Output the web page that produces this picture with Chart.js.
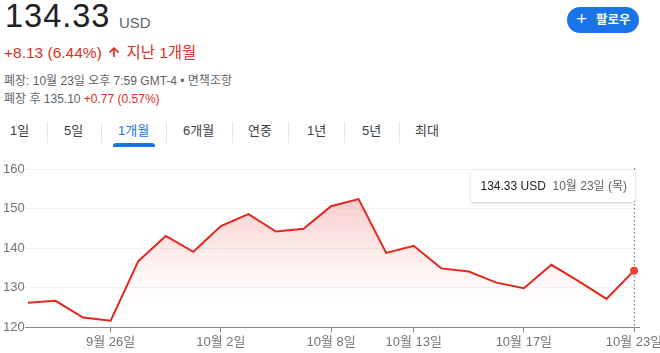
<!DOCTYPE html>
<html><head><meta charset="utf-8">
<script src="https://cdn.jsdelivr.net/npm/chart.js@4.4.1/dist/chart.umd.min.js"></script>
<style>
html,body{margin:0;padding:0;}
body{width:660px;height:353px;background:#fff;font-family:"Liberation Sans",Arial,"Noto Sans CJK KR",sans-serif;overflow:hidden;position:relative;}
.abs{position:absolute;white-space:nowrap;}
.tab{position:absolute;top:124px;font-size:13px;line-height:13px;color:#3c4043;white-space:nowrap;}
.sep{position:absolute;top:122px;width:1px;height:21px;background:#e3e5e8;}
#wrap{position:absolute;left:0;top:150px;width:660px;height:203px;}
#tip{position:absolute;top:170px;height:32px;background:#fff;box-shadow:0 1px 3px rgba(60,64,67,0.28);border-radius:3px;font-size:12px;line-height:32px;white-space:nowrap;padding:0 8px 0 9px;box-sizing:border-box;visibility:hidden;}
</style></head><body>
<div class="abs" style="left:5px;top:-0.5px;font-size:32.5px;line-height:32.5px;color:#202124;letter-spacing:1px;">134.33</div>
<div class="abs" style="left:119px;top:14.6px;font-size:15px;line-height:15px;color:#5f6368;">USD</div>
<div class="abs" style="left:4px;top:45px;font-size:15.5px;line-height:15.5px;color:#d93025;">+8.13 (6.44%) <svg width="14" height="14" viewBox="0 0 24 24" style="vertical-align:-1px;margin:0 1px"><path fill="#d93025" stroke="#d93025" stroke-width="1.2" d="M4 12l1.41 1.41L11 7.83V20h2V7.83l5.58 5.59L20 12l-8-8-8 8z"/></svg> 지난 1개월</div>
<div class="abs" style="left:4px;top:74.8px;font-size:12px;line-height:12px;color:#5f6368;">폐장: 10월 23일 오후 7:59 GMT-4 • 면책조항</div>
<div class="abs" style="left:4px;top:92.8px;font-size:12px;line-height:12px;color:#5f6368;">폐장 후 135.10 <span style="color:#d93025">+0.77 (0.57%)</span></div>

<div class="abs" style="left:567px;top:7px;width:72px;height:26px;border-radius:13px;background:#1a73e8;"></div>
<div class="abs" style="left:576px;top:9px;font-size:19px;line-height:20px;color:#fff;">+</div>
<div class="abs" style="left:596px;top:13.5px;font-size:12.5px;line-height:13px;color:#fff;font-weight:bold;">팔로우</div>

<div class="tab" style="left:10px">1일</div>
<div class="tab" style="left:64px">5일</div>
<div class="tab" style="left:118px;color:#1a73e8">1개월</div>
<div class="tab" style="left:183px">6개월</div>
<div class="tab" style="left:248px">연중</div>
<div class="tab" style="left:307px">1년</div>
<div class="tab" style="left:362px">5년</div>
<div class="tab" style="left:415px">최대</div>
<div class="sep" style="left:47px"></div>
<div class="sep" style="left:101px"></div>
<div class="sep" style="left:166px"></div>
<div class="sep" style="left:232px"></div>
<div class="sep" style="left:288px"></div>
<div class="sep" style="left:344px"></div>
<div class="sep" style="left:399px"></div>
<div class="abs" style="left:113px;top:143px;width:42px;height:4px;background:#1a73e8;border-radius:3px 3px 0 0;"></div>

<div id="wrap"><canvas id="c" width="660" height="203"></canvas></div>
<div id="tip"><span style="color:#202124">134.33 USD</span>&nbsp; <span style="color:#5f6368">10월 23일 (목)</span></div>

<script>
const dates = ['9월 23일','9월 24일','9월 25일','9월 26일','9월 29일','9월 30일','10월 1일','10월 2일','10월 3일','10월 6일','10월 7일','10월 8일','10월 9일','10월 10일','10월 13일','10월 14일','10월 15일','10월 16일','10월 17일','10월 20일','10월 21일','10월 22일','10월 23일'];
const prices = [126.2,126.7,122.5,121.7,136.7,143.1,139.1,145.6,148.6,144.2,144.9,150.6,152.4,138.8,140.6,134.9,134.1,131.3,129.9,135.8,131.6,127.2,134.33];
const tickDates = ['9월 26일','10월 2일','10월 8일','10월 13일','10월 17일','10월 23일'];
const yTicks = [120,130,140,150,160];

const labelFont = {family:'"Liberation Sans", Arial, "Noto Sans CJK KR", sans-serif', size:13};
const labelColor = '#70757a';
const lastIdx = prices.length - 1;

const cursorPlugin = {
  id:'cursor',
  beforeDatasetsDraw(chart){
    const meta = chart.getDatasetMeta(0);
    const pt = meta.data[lastIdx];
    const {ctx, chartArea} = chart;
    const x = Math.round(pt.x) + 0.5;
    ctx.save();
    ctx.strokeStyle = '#80868b';
    ctx.lineWidth = 1.2;
    ctx.setLineDash([1.5,2.5]);
    ctx.beginPath();
    ctx.moveTo(x, chartArea.top - 1);
    ctx.lineTo(x, chartArea.bottom);
    ctx.stroke();
    ctx.restore();
  },
  afterRender(chart){
    const pt = chart.getDatasetMeta(0).data[lastIdx];
    const tip = document.getElementById('tip');
    tip.style.right = (660 - Math.round(pt.x) - 1) + 'px';
    tip.style.visibility = 'visible';
  }
};

new Chart(document.getElementById('c'), {
  type:'line',
  data:{
    datasets:[{
      data: prices.map((p,i)=>({x:i, y:p})),
      borderColor:'#e5261c',
      borderWidth:2,
      tension:0,
      pointRadius: prices.map((p,i)=> i===lastIdx ? 4 : 0),
      pointBackgroundColor:'#ea4335',
      pointBorderWidth:0,
      fill:'start',
      backgroundColor:(context)=>{
        const chart = context.chart;
        const {ctx, chartArea, scales} = chart;
        if(!chartArea) return 'rgba(0,0,0,0)';
        const top = scales.y.getPixelForValue(Math.max(...prices));
        const g = ctx.createLinearGradient(0, top, 0, chartArea.bottom);
        g.addColorStop(0, 'rgba(229,38,28,0.22)');
        g.addColorStop(0.55, 'rgba(229,38,28,0.05)');
        g.addColorStop(0.8, 'rgba(229,38,28,0)');
        g.addColorStop(1, 'rgba(229,38,28,0)');
        return g;
      }
    }]
  },
  options:{
    responsive:false,
    animation:false,
    events:[],
    layout:{padding:{left:3, right:21, top:19, bottom:1}},
    plugins:{legend:{display:false}, tooltip:{enabled:false}},
    scales:{
      x:{
        type:'linear', min:-0.11, max:22.18,
        afterBuildTicks:(s)=>{ s.ticks = tickDates.map(d=>({value:dates.indexOf(d)})); },
        afterFit:(s)=>{ s.paddingLeft = 0; s.paddingRight = 0; },
        ticks:{autoSkip:false, maxRotation:0, padding:2, font:labelFont, color:labelColor,
          callback:(v)=>dates[v]},
        grid:{drawOnChartArea:false, drawTicks:true, tickLength:5, tickColor:'#80868b', tickWidth:1},
        border:{display:true, color:'#80868b', width:1}
      },
      y:{
        min:120, max:160,
        afterBuildTicks:(s)=>{ s.ticks = yTicks.map(v=>({value:v})); },
        afterFit:(s)=>{ s.width = 22; },
        ticks:{crossAlign:'far', padding:0, font:{...labelFont, size:13}, color:labelColor},
        grid:{color:'#f1f3f4', drawTicks:false},
        border:{display:false}
      }
    }
  },
  plugins:[cursorPlugin]
});
</script>
</body></html>
